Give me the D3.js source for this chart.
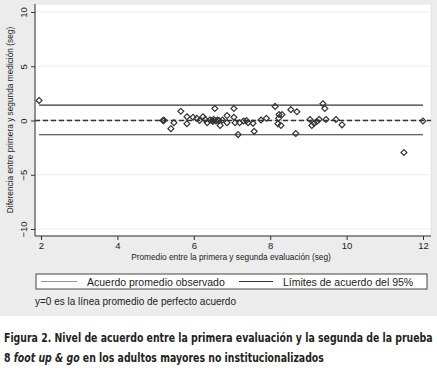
<!DOCTYPE html>
<html>
<head>
<meta charset="utf-8">
<script src="https://cdn.jsdelivr.net/npm/d3@7"></script>
<style>
  body { margin: 0; background: #fff; }
  svg { display: block; }
</style>
</head>
<body>
<div id="chart"></div>
<script>
// promedio (x) y diferencia (y) entre las dos evaluaciones
const promedio = [1.95, 5.2, 5.2, 5.22, 5.4, 5.48, 5.66, 5.82, 5.82, 5.98,
    6.08, 6.15, 6.24, 6.35, 6.42, 6.48, 6.52, 6.58, 6.62, 6.66,
    6.5, 6.55, 6.69, 6.87, 6.87, 7.05, 7.05, 7.08, 7.16, 7.2,
    7.38, 7.42, 7.58, 7.55, 7.76, 7.9, 8.13, 8.23, 8.31, 8.2,
    8.28, 8.22, 8.54, 8.7, 8.67, 9.04, 9.09, 9.15, 9.22, 9.28,
    9.38, 9.43, 9.46, 9.72, 9.88, 11.5, 12.0, 6.3, 6.75, 7.3];
const diferencia = [1.85, 0, 0, 0.02, -0.75, -0.2, 0.85, -0.3, 0.35, 0.3,
    0.2, 0.0, 0.35, -0.2, 0.05, 0.0, 0.1, -0.05, 0.05, 0.0,
    -0.1, 1.1, -0.45, 0.45, -0.2, 1.1, 0.3, -0.2, -1.3, -0.2,
    0.0, -0.2, -1.0, -0.25, 0.05, 0.2, 1.3, 0.55, 0.55, -0.3,
    -0.45, 0.2, 1.0, 0.8, -1.2, 0.1, -0.45, -0.25, -0.1, 0.1,
    1.55, 1.1, 0.1, 0.1, -0.4, -2.95, -0.05, 0.1, 0.05, -0.05];

const acuerdoPromedio = 0.02;
const limiteSuperior = 1.42;
const limiteInferior = -1.32;

const xTicks = [2, 4, 6, 8, 10, 12];
const yTicks = [-10, -5, 0, 5, 10];

const W = 437, H = 377;
const plot = { left: 35, right: 431, top: 4, bottom: 236 };

const svg = d3.select("#chart").append("svg")
    .attr("width", W).attr("height", H);

// fondo gris estilo Stata
svg.append("rect").attr("x", 0).attr("y", 0)
    .attr("width", W).attr("height", 316).attr("fill", "#ececec");
svg.append("rect")
    .attr("x", plot.left).attr("y", plot.top)
    .attr("width", plot.right - plot.left).attr("height", plot.bottom - plot.top)
    .attr("fill", "#fff").attr("stroke", "#e2e2e2").attr("stroke-width", 0.8);

const x = d3.scaleLinear().domain([2, 12]).range([41, 423]);
const y = d3.scaleLinear().domain([-10, 10]).range([229, 12]);

// líneas de rejilla
svg.append("g").selectAll("line")
    .data(yTicks.filter(d => d !== 0))
    .enter().append("line")
    .attr("x1", plot.left).attr("x2", plot.right)
    .attr("y1", d => y(d)).attr("y2", d => y(d))
    .attr("stroke", "#ececec").attr("stroke-width", 1);

const xAxis = svg.append("g")
    .attr("transform", `translate(0,${plot.bottom})`)
    .call(d3.axisBottom(x).tickValues(xTicks).tickSize(4).tickPadding(2).tickSizeOuter(0));
xAxis.select(".domain").attr("d", `M${plot.left},0H${plot.right}`);

const yAxis = svg.append("g")
    .attr("transform", `translate(${plot.left},0)`)
    .call(d3.axisLeft(y).tickValues(yTicks).tickSize(4).tickPadding(2).tickSizeOuter(0));
yAxis.select(".domain").attr("d", `M0,${plot.top}V${plot.bottom}`);

svg.selectAll(".tick text")
    .attr("font-family", "Liberation Sans, Arial, sans-serif")
    .attr("font-size", 9.5).attr("fill", "#222");
svg.selectAll(".domain, .tick line").attr("stroke", "#333").attr("stroke-width", 1);
yAxis.selectAll(".tick text")
    .attr("transform", "rotate(-90)")
    .attr("x", 0).attr("y", -8)
    .attr("dy", 0)
    .attr("text-anchor", "middle");

// etiquetas de ejes
svg.append("text")
    .attr("x", 231).attr("y", 260)
    .attr("text-anchor", "middle")
    .attr("font-family", "Liberation Sans, Arial, sans-serif")
    .attr("font-size", 8.3).attr("fill", "#222")
    .text("Promedio entre la primera y segunda evaluación (seg)");
svg.append("text")
    .attr("transform", "translate(13,120) rotate(-90)")
    .attr("text-anchor", "middle")
    .attr("font-family", "Liberation Sans, Arial, sans-serif")
    .attr("font-size", 8.3).attr("fill", "#222")
    .text("Diferencia entre primera y segunda medición (seg)");

// líneas de referencia
const xMin = d3.min(promedio), xMax = d3.max(promedio);
svg.append("line")
    .attr("x1", x(xMin)).attr("x2", x(xMax))
    .attr("y1", y(acuerdoPromedio)).attr("y2", y(acuerdoPromedio))
    .attr("stroke", "#bbb").attr("stroke-width", 0.8);
svg.append("line")
    .attr("x1", plot.left).attr("x2", plot.right)
    .attr("y1", y(0)).attr("y2", y(0))
    .attr("stroke", "#333").attr("stroke-width", 1.3)
    .attr("stroke-dasharray", "5,3");
svg.append("g").selectAll("line")
    .data([limiteSuperior, limiteInferior])
    .enter().append("line")
    .attr("x1", x(xMin)).attr("x2", x(xMax))
    .attr("y1", d => y(d)).attr("y2", d => y(d))
    .attr("stroke", "#333").attr("stroke-width", 1.1);

// puntos (rombos huecos)
const diamond = d3.symbol().type(d3.symbolDiamond2).size(22);
svg.append("g").selectAll("path")
    .data(promedio.map((p, i) => [p, diferencia[i]]))
    .enter().append("path")
    .attr("d", diamond)
    .attr("transform", d => `translate(${x(d[0])},${y(d[1])})`)
    .attr("fill", "none")
    .attr("stroke", "#333").attr("stroke-width", 1.2);

// leyenda
const legend = svg.append("g").attr("font-family", "Liberation Sans, Arial, sans-serif")
    .attr("font-size", 10.5).attr("fill", "#222");
legend.append("rect")
    .attr("x", 36).attr("y", 274).attr("width", 391).attr("height", 15)
    .attr("fill", "#fff").attr("stroke", "#444").attr("stroke-width", 1);
const legendItems = [
    { label: "Acuerdo promedio observado", x1: 41, x2: 77, tx: 87, color: "#777", w: 0.8 },
    { label: "Límites de acuerdo del 95%", x1: 239, x2: 273, tx: 283, color: "#333", w: 1.1 }
];
legendItems.forEach(it => {
    legend.append("line")
        .attr("x1", it.x1).attr("x2", it.x2).attr("y1", 281.5).attr("y2", 281.5)
        .attr("stroke", it.color).attr("stroke-width", it.w);
    legend.append("text").attr("x", it.tx).attr("y", 285.5).text(it.label);
});

svg.append("text")
    .attr("x", 35).attr("y", 305)
    .attr("font-family", "Liberation Sans, Arial, sans-serif")
    .attr("font-size", 10).attr("fill", "#222")
    .text("y=0 es la línea promedio de perfecto acuerdo");

// pie de figura: se estrecha horizontalmente para imitar la fuente condensada
const caption = svg.append("g")
    .attr("font-family", "DejaVu Sans Condensed, DejaVu Sans, sans-serif")
    .attr("font-weight", "bold").attr("font-size", 13).attr("fill", "#231f20");
const line1 = caption.append("text")
    .text("Figura 2. Nivel de acuerdo entre la primera evaluación y la segunda de la prueba");
const line2 = caption.append("text");
line2.append("tspan").text("8 ");
line2.append("tspan").attr("font-style", "italic").text("foot up & go");
line2.append("tspan").text(" en los adultos mayores no institucionalizados");
const sx = 429 / line1.node().getComputedTextLength();
line1.attr("transform", `translate(4,342) scale(${sx},1)`);
line2.attr("transform", `translate(4,362) scale(${sx},1)`);
</script>
</body>
</html>
